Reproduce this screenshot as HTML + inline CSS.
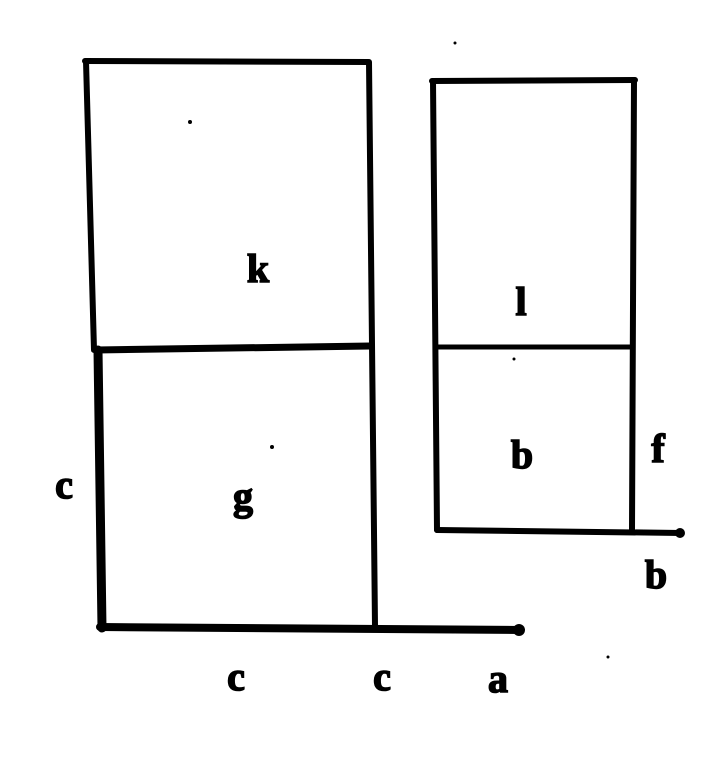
<!DOCTYPE html>
<html>
<head>
<meta charset="utf-8">
<style>
html,body{margin:0;padding:0;background:#fff;}
svg{display:block;}
text{font-family:"Liberation Serif",serif;font-weight:bold;fill:#000;stroke:#000;stroke-width:1.5;}
</style>
</head>
<body>
<svg width="728" height="757" viewBox="0 0 728 757">
  <g stroke="#000" stroke-linecap="round" fill="none">
    <line x1="85" y1="61" x2="368" y2="62" stroke-width="6"/>
    <line x1="86" y1="61" x2="94" y2="350" stroke-width="6"/>
    <line x1="98" y1="350" x2="102" y2="628" stroke-width="9"/>
    <line x1="369" y1="62" x2="375" y2="626" stroke-width="6"/>
    <line x1="96" y1="350" x2="370" y2="346" stroke-width="7"/>
    <line x1="100" y1="627" x2="520" y2="630" stroke-width="8"/>
    <circle cx="519" cy="630" r="6" fill="#000" stroke="none"/>
  </g>
  <g stroke="#000" stroke-linecap="round" fill="none">
    <line x1="432" y1="81" x2="635" y2="80" stroke-width="6"/>
    <line x1="433" y1="81" x2="437" y2="530" stroke-width="6"/>
    <line x1="634" y1="80" x2="632" y2="530" stroke-width="6"/>
    <line x1="438" y1="347" x2="632" y2="347" stroke-width="5"/>
    <line x1="437" y1="530" x2="681" y2="533" stroke-width="6"/>
    <circle cx="680" cy="533" r="5" fill="#000" stroke="none"/>
  </g>
  <g font-size="40" text-anchor="middle">
    <text x="258" y="282">k</text>
    <text x="243" y="510">g</text>
    <text x="64" y="498">c</text>
    <text x="521" y="315">l</text>
    <text x="522" y="468">b</text>
    <text x="658" y="462">f</text>
    <text x="656" y="588">b</text>
    <text x="236" y="690">c</text>
    <text x="382" y="690">c</text>
    <text x="498" y="692">a</text>
  </g>
  <g fill="#000">
    <circle cx="190" cy="122" r="2"/>
    <circle cx="272" cy="447" r="2"/>
    <circle cx="514" cy="359" r="1.5"/>
    <circle cx="455" cy="43" r="1.5"/>
    <circle cx="608" cy="657" r="1.5"/>
  </g>
</svg>
</body>
</html>
